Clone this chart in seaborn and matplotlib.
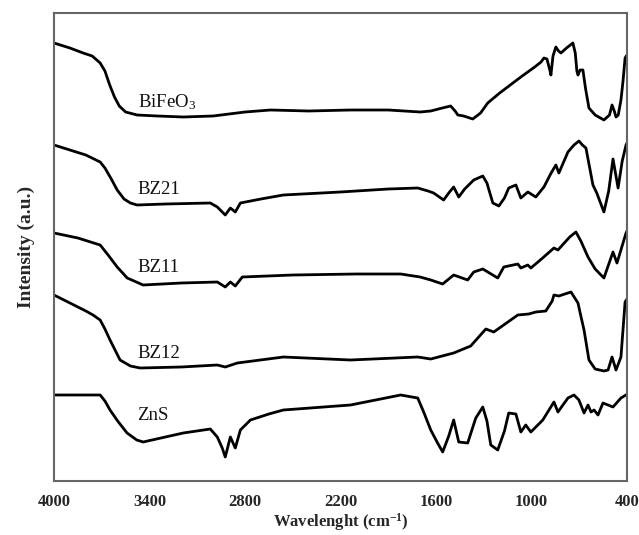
import numpy as np
import pandas as pd
import matplotlib
matplotlib.use("Agg")
import matplotlib.pyplot as plt
import seaborn as sns

# ---- data (wavenumber cm^-1, intensity a.u., offset-stacked) ----
bfo_wn = [4000, 3900, 3817, 3760, 3710, 3680, 3650, 3620, 3590, 3550, 3478, 3350, 3188, 3000,
          2800, 2640, 2400, 2136, 1900, 1700, 1633, 1560, 1508, 1480, 1463, 1426, 1369, 1320,
          1275, 1200, 1067, 980, 940, 922, 903, 885, 878, 865, 847, 830, 815, 780, 740, 725,
          715, 708, 695, 677, 660, 639, 600, 545, 510, 494, 480, 469, 455, 438, 425, 412, 400]
bfo_i = [438, 433, 428, 425, 418, 410, 396, 384, 375, 369, 366, 365, 364, 365,
         369, 371, 370, 371, 371, 369, 370, 373, 375, 370, 366, 365, 362, 368,
         378, 388, 404, 414, 419, 423, 422, 411, 406, 425, 434, 430, 428, 433, 438, 428,
         410, 406, 411, 411, 392, 373, 366, 361, 366, 376, 370, 364, 366, 381, 400, 423, 426]

bz21_wn = [4000, 3900, 3800, 3710, 3680, 3640, 3603, 3560, 3520, 3478, 3300, 3018, 2974, 2924,
           2892, 2861, 2829, 2700, 2559, 2200, 1900, 1715, 1650, 1615, 1552, 1520, 1489, 1457,
           1420, 1363, 1306, 1280, 1243, 1205, 1170, 1143, 1098, 1067, 1023, 973, 922, 880,
           847, 828, 771, 733, 702, 680, 658, 614, 590, 545, 515, 488, 456, 430, 406, 400]
bz21_i = [336, 331, 326, 319, 313, 302, 291, 282, 278, 276, 277, 278, 274, 266,
          273, 269, 278, 282, 286, 289, 292, 293, 290, 288, 281, 288, 294, 284,
          292, 301, 305, 298, 278, 275, 283, 293, 296, 283, 289, 284, 294, 307,
          316, 308, 329, 336, 340, 336, 333, 296, 288, 269, 290, 322, 293, 320, 336, 338]

bz11_wn = [4000, 3850, 3710, 3660, 3603, 3540, 3440, 3200, 2974, 2924, 2892, 2861, 2817, 2500,
           2100, 1822, 1700, 1633, 1558, 1489, 1401, 1363, 1306, 1212, 1174, 1086, 1067, 1023,
           1004, 930, 859, 834, 760, 721, 690, 645, 600, 545, 488, 463, 406, 400]
bz11_i = [248, 243, 236, 226, 214, 203, 196, 198, 199, 194, 199, 195, 204, 206,
          207, 207, 204, 201, 197, 206, 201, 209, 212, 203, 214, 217, 213, 216,
          213, 223, 233, 231, 244, 249, 240, 224, 212, 203, 229, 218, 248, 250]

bz12_wn = [4000, 3900, 3800, 3755, 3710, 3680, 3648, 3585, 3520, 3459, 3200, 2974, 2924, 2848,
           2559, 2137, 1715, 1633, 1489, 1382, 1287, 1237, 1086, 1017, 973, 910, 870, 859,
           828, 752, 708, 690, 670, 639, 600, 545, 519, 494, 469, 438, 412, 400]
bz12_i = [186, 178, 170, 166, 161, 152, 141, 121, 115, 113, 114, 116, 114, 118,
          124, 121, 124, 122, 128, 135, 152, 149, 166, 167, 169, 170, 180, 186,
          185, 189, 178, 165, 151, 121, 112, 110, 111, 124, 111, 124, 179, 182]

zns_wn = [4000, 3710, 3680, 3648, 3600, 3541, 3480, 3440, 3300, 3188, 3018, 2974, 2943, 2924,
          2892, 2861, 2829, 2766, 2650, 2559, 2137, 1822, 1715, 1680, 1633, 1590, 1558, 1520,
          1489, 1457, 1401, 1350, 1306, 1280, 1256, 1212, 1170, 1143, 1098, 1067, 1036, 1004,
          929, 859, 834, 771, 733, 702, 670, 645, 626, 607, 582, 551, 488, 438, 406, 400]
zns_i = [86, 86, 80, 71, 60, 48, 41, 39, 44, 48, 52, 44, 33, 24,
         44, 33, 51, 61, 67, 71, 76, 86, 83, 70, 51, 38, 29, 45,
         61, 39, 38, 63, 74, 60, 36, 31, 50, 68, 67, 49, 56, 49,
         61, 79, 69, 83, 86, 81, 68, 76, 69, 71, 66, 78, 74, 83, 86, 87]

samples = ["BiFeO3", "BZ21", "BZ11", "BZ12", "ZnS"]
labels = ["BiFeO$_3$", "BZ21", "BZ11", "BZ12", "ZnS"]
label_i = [379, 292, 213, 128, 66]
x_ticks = [4000, 3400, 2800, 2200, 1600, 1000, 400]

series = [(bfo_wn, bfo_i), (bz21_wn, bz21_i), (bz11_wn, bz11_i),
          (bz12_wn, bz12_i), (zns_wn, zns_i)]
frames = []
for name, (w, i) in zip(samples, series):
    frames.append(pd.DataFrame({"wn": w, "I": i, "sample": name}))
df = pd.concat(frames, ignore_index=True)

sns.set_theme(style="white")
plt.rcParams["font.family"] = ["Liberation Serif", "DejaVu Serif"]
plt.rcParams["mathtext.fontset"] = "custom"
plt.rcParams["mathtext.rm"] = "Liberation Serif"
plt.rcParams["mathtext.bf"] = "Liberation Serif:bold"
plt.rcParams["mathtext.it"] = "Liberation Serif:italic"

fig = plt.figure(figsize=(6.39, 5.35), dpi=100)
ax = fig.add_axes([54 / 639, 54 / 535, 573 / 639, 468 / 535])

sns.lineplot(data=df, x="wn", y="I", hue="sample", units="sample", estimator=None,
             palette=["black"] * 5, linewidth=2.0, legend=False, sort=False, ax=ax)

ax.set_xlim(4000, 400)
ax.set_ylim(0, 468)
ax.set_xticks(x_ticks)
ax.set_xticklabels([str(t) for t in x_ticks], fontsize=12, fontweight="bold")
ax.set_yticks([])
ax.tick_params(axis="x", direction="out", length=4, width=1.2, color="#555555", pad=5)
for s in ax.spines.values():
    s.set_color("#666666")
    s.set_linewidth(1.5)

for lab, ly in zip(labels, label_i):
    ax.text(3475, ly, lab, fontsize=13.5, ha="left", va="center", color="#111111")

ax.set_xlabel(r"Wavelenght (cm$^{\mathbf{-1}}$)", fontsize=12, fontweight="bold", labelpad=1)
ax.set_ylabel("Intensity (a.u.)", fontsize=14, fontweight="bold", labelpad=14)

fig.savefig("out.png", dpi=100)
